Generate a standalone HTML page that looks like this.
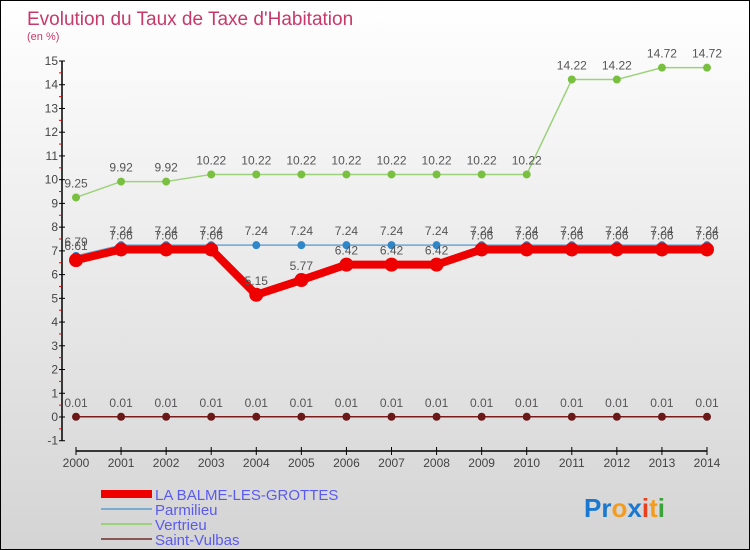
<!DOCTYPE html>
<html><head><meta charset="utf-8"><style>
body{margin:0}
#wrap{position:relative;width:748px;height:548px;border:1px solid #000;background:linear-gradient(#fff,#d4d4d4);font-family:"Liberation Sans",sans-serif;overflow:hidden}
svg text{font-family:"Liberation Sans",sans-serif}
</style></head><body>
<div id="wrap">
<svg id="c" width="748" height="548">
<text x="26" y="24" font-size="19" fill="#c8396a">Evolution du Taux de Taxe d'Habitation</text>
<text x="26" y="39" font-size="11" fill="#c8396a">(en %)</text>
<g id="axes"></g><g id="series"></g>
<g>
<rect x="100" y="489" width="51" height="8" fill="#e00"/>
<text x="154" y="499" font-size="15" fill="#5a5aef">LA BALME-LES-GROTTES</text>
<rect x="100" y="507" width="51" height="2" fill="#7aabd0"/>
<text x="154" y="514" font-size="15" fill="#5a5aef">Parmilieu</text>
<rect x="100" y="522" width="51" height="2" fill="#9cd27a"/>
<text x="154" y="529" font-size="15" fill="#5a5aef">Vertrieu</text>
<rect x="100" y="537" width="51" height="2" fill="#8a5555"/>
<text x="154" y="544" font-size="15" fill="#5a5aef">Saint-Vulbas</text>
</g>
<g font-size="26" font-weight="bold">
<text x="583" y="516"><tspan fill="#1a78d0">Pr</tspan><tspan fill="#f39c1f">o</tspan><tspan fill="#1a78d0">x</tspan><tspan fill="#e8401c">i</tspan><tspan fill="#f39c1f">t</tspan><tspan fill="#3aa33a">i</tspan></text>
</g>
</svg>
</div>
<script>
const years=[2000,2001,2002,2003,2004,2005,2006,2007,2008,2009,2010,2011,2012,2013,2014];
const yTicks=[-1,0,1,2,3,4,5,6,7,8,9,10,11,12,13,14,15];
const balme=[6.61,7.06,7.06,7.06,5.15,5.77,6.42,6.42,6.42,7.06,7.06,7.06,7.06,7.06,7.06];
const parmilieu=[6.79,7.24,7.24,7.24,7.24,7.24,7.24,7.24,7.24,7.24,7.24,7.24,7.24,7.24,7.24];
const vertrieu=[9.25,9.92,9.92,10.22,10.22,10.22,10.22,10.22,10.22,10.22,10.22,14.22,14.22,14.72,14.72];
const vulbas=[0.01,0.01,0.01,0.01,0.01,0.01,0.01,0.01,0.01,0.01,0.01,0.01,0.01,0.01,0.01];
const NS="http://www.w3.org/2000/svg";
function X(i){return 75+i*(706-75)/(years.length-1);}
function Y(v){return 416-v*(416-60)/15;}
function mk(t,a,p){const e=document.createElementNS(NS,t);for(const k in a)e.setAttribute(k,a[k]);p.appendChild(e);return e;}
const ax=document.getElementById('axes');
let l=mk('line',{x1:61,y1:Y(15),x2:61,y2:Y(-1),stroke:'#000','stroke-width':1.5},ax);


yTicks.forEach(v=>{
 let t=mk('line',{x1:58,y1:Y(v),x2:64,y2:Y(v),stroke:'#000'},ax);
 
 
 let tx=mk('text',{x:57,y:Y(v)+4,'font-size':12,fill:'#444','text-anchor':'end'},ax);tx.textContent=v;
 
 
 if(v<15){let m=mk('line',{x1:58,y1:Y(v+0.5),x2:61,y2:Y(v+0.5),stroke:'#e00'},ax);
 
 }
});
l=mk('line',{x1:75,y1:450,x2:706,y2:450,stroke:'#000','stroke-width':1.5},ax);


years.forEach((y,i)=>{
 let t=mk('line',{x1:X(i),y1:446,x2:X(i),y2:454,stroke:'#000'},ax);
 
 
 let tx=mk('text',{x:X(i),y:466,'font-size':12,fill:'#444','text-anchor':'middle'},ax);tx.textContent=y;
 
 
});
const sg=document.getElementById('series');
function series(name,vals,color,w,r,dot){
 const g=mk('g',{},sg);
 
 
 const p=mk('polyline',{points:vals.map((v,i)=>X(i)+','+Y(v)).join(' '),fill:'none',stroke:color,'stroke-width':w,'stroke-linejoin':'round'},g);
 
 
 vals.forEach((v,i)=>{
  const c=mk('circle',{cx:X(i),cy:Y(v),r:r,fill:dot},g);
  
  
  const t=mk('text',{x:X(i),y:Y(v)-10,'font-size':12,fill:'#555','text-anchor':'middle'},g);
  t.textContent=v.toFixed(2);
  
  
 });
}
series('saint-vulbas',vulbas,'#7a1c1c',1.5,4,'#6a1818');
series('vertrieu',vertrieu,'#9cd27a',1.5,4,'#7ac040');
series('parmilieu',parmilieu,'#6aa6d6',1.5,4,'#2f86c9');
series('la-balme',balme,'#e00',8,7,'#e00');
</script>
</body></html>
